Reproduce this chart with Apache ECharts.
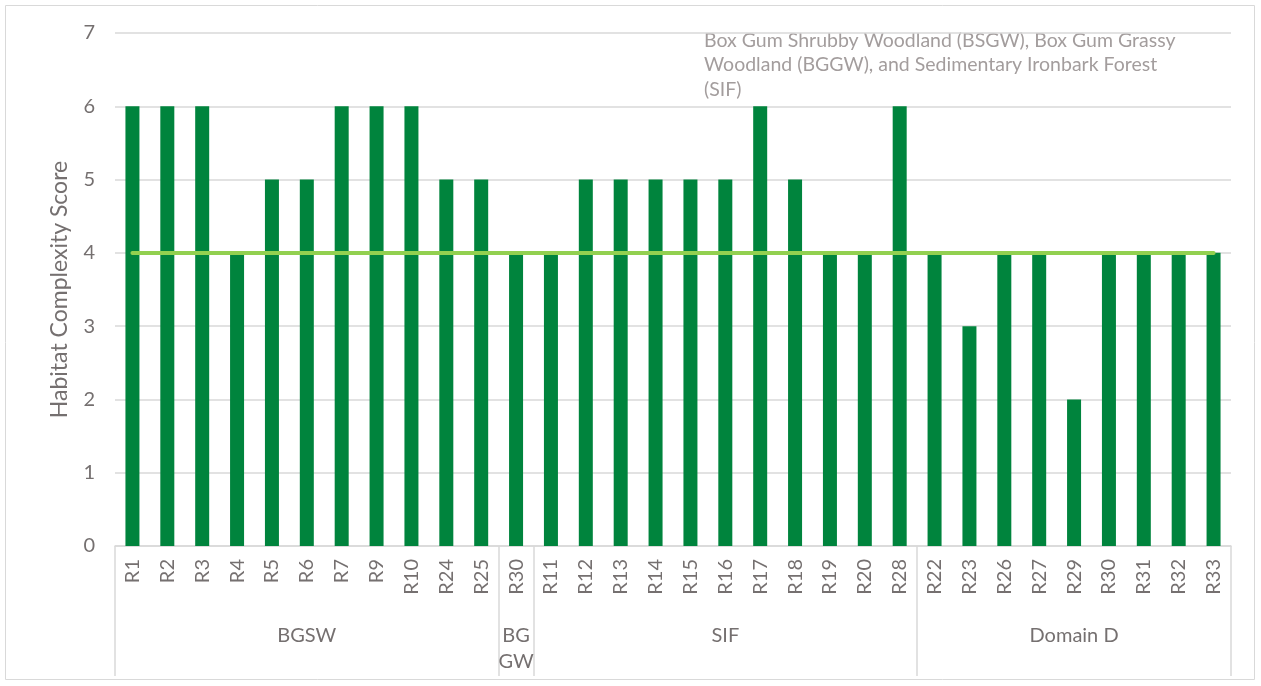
<!DOCTYPE html>
<html>
<head>
<meta charset="utf-8">
<script src="https://cdn.jsdelivr.net/npm/echarts@6/dist/echarts.min.js"></script>
<style>
  html, body { margin: 0; padding: 0; background: #fff; }
  #chart { width: 1261px; height: 686px; }
</style>
</head>
<body>
<div id="chart"></div>
<script>
// sites, in plotted order
var categories = ['R1', 'R2', 'R3', 'R4', 'R5', 'R6', 'R7', 'R9', 'R10', 'R24', 'R25',
  'R30',
  'R11', 'R12', 'R13', 'R14', 'R15', 'R16', 'R17', 'R18', 'R19', 'R20', 'R28',
  'R22', 'R23', 'R26', 'R27', 'R29', 'R30', 'R31', 'R32', 'R33'];
var scores = [6, 6, 6, 4, 5, 5, 6, 6, 6, 5, 5,
  4,
  4, 5, 5, 5, 5, 5, 6, 5, 4, 4, 6,
  4, 3, 4, 4, 2, 4, 4, 4, 4];
// vegetation groups under the x axis
var groupNames = ['BGSW', 'BG\nGW', 'SIF', 'Domain D'];
var groupSizes = [11, 1, 11, 9];
var threshold = 4;
var yTicks = [0, 1, 2, 3, 4, 5, 6, 7];
var note = 'Box Gum Shrubby Woodland (BSGW), Box Gum Grassy\nWoodland (BGGW), and Sedimentary Ironbark Forest\n(SIF)';

var txt = '#757070';
var font = 'Lato';

// group name for every category, plus where groups start / are centred
var groupOf = [];
var groupStarts = {};
var groupMids = {};
var idx = 0;
groupNames.forEach(function (g, i) {
  groupStarts[idx] = true;
  groupMids[idx + Math.floor(groupSizes[i] / 2)] = true;
  for (var k = 0; k < groupSizes[i]; k++) groupOf.push(g);
  idx += groupSizes[i];
});
groupStarts[idx] = true;

var myChart = echarts.init(document.getElementById('chart'));
var option = {
  animation: false,
  textStyle: { fontFamily: font },
  graphic: [
    {
      type: 'rect',
      shape: { x: 5.5, y: 5.5, width: 1249, height: 674 },
      style: { fill: 'none', stroke: '#d9d9d9', lineWidth: 1 }
    },
    {
      type: 'text',
      left: 704,
      top: 28,
      style: {
        text: note,
        fill: '#a39d9d',
        font: '19.5px ' + font,
        lineHeight: 24.5
      }
    }
  ],
  grid: { left: 115, right: 30, top: 33, bottom: 140 },
  xAxis: [
    {
      type: 'category',
      data: categories,
      axisLine: { show: true, lineStyle: { color: '#d9d9d9', width: 1.5 } },
      axisTick: { show: false },
      axisLabel: {
        rotate: 90,
        interval: 0,
        margin: 13,
        color: txt,
        fontSize: 20,
        fontFamily: font
      }
    },
    {
      type: 'category',
      data: groupOf,
      position: 'bottom',
      axisLine: { show: false },
      axisTick: {
        show: true,
        length: 130,
        interval: function (i) { return !!groupStarts[i]; },
        lineStyle: { color: '#d9d9d9', width: 1.5 }
      },
      axisLabel: {
        interval: function (i) { return !!groupMids[i]; },
        margin: 77,
        color: txt,
        fontSize: 20,
        lineHeight: 26,
        fontFamily: font
      }
    }
  ],
  yAxis: {
    type: 'value',
    min: yTicks[0],
    max: yTicks[yTicks.length - 1],
    interval: 1,
    name: 'Habitat Complexity Score',
    nameLocation: 'middle',
    nameGap: 44,
    nameTextStyle: { color: txt, fontSize: 23, fontFamily: font },
    axisLine: { show: false },
    axisTick: { show: false },
    axisLabel: { color: txt, fontSize: 20, margin: 20, fontFamily: font },
    splitLine: { lineStyle: { color: '#d9d9d9', width: 1.5 } }
  },
  series: [
    {
      name: 'Habitat Complexity Score',
      type: 'bar',
      data: scores,
      barWidth: 14,
      itemStyle: { color: '#00843d' },
      markLine: {
        silent: true,
        symbol: 'none',
        label: { show: false },
        lineStyle: { color: '#92d050', width: 4, type: 'solid', cap: 'round' },
        data: [[
          { xAxis: 0, yAxis: threshold },
          { xAxis: categories.length - 1, yAxis: threshold }
        ]]
      }
    }
  ]
};
myChart.setOption(option);
</script>
</body>
</html>
